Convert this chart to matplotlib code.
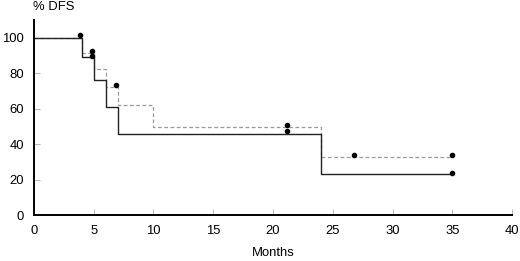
import matplotlib
matplotlib.use("Agg")
import matplotlib.pyplot as plt

plt.rcParams['font.family'] = ['Liberation Sans', 'DejaVu Sans']

# Kaplan-Meier step curves (months, % DFS)
solid_t = [0, 4, 5, 6, 7, 24, 35]
solid_s = [100, 89, 76, 61, 46, 23, 23]
dashed_t = [0, 4, 5, 6, 7, 10, 24, 35]
dashed_s = [100, 91.5, 82.5, 72, 62, 49.5, 33, 33]

# censored observations
cens_t = [3.9, 4.9, 4.9, 6.9, 21.2, 21.2, 26.8, 35, 35]
cens_s = [101.5, 92.7, 89.5, 73.4, 50.6, 47.2, 34, 34, 24]

xticks = [0, 5, 10, 15, 20, 25, 30, 35, 40]
yticks = [0, 20, 40, 60, 80, 100]

fig = plt.figure(figsize=(5.2, 2.61), dpi=100)
ax = fig.add_axes([0.065, 0.176, 0.92, 0.747])

ax.step(dashed_t, dashed_s, where='post', color='#9a9a9a', lw=0.9, ls=(0, (3, 2)))
ax.step(solid_t, solid_s, where='post', color='#222222', lw=1.0)
ax.plot(cens_t, cens_s, ls='none', marker='o', ms=3.0, color='black')

ax.set_xlim(0, 40)
ax.set_ylim(0, 110)
ax.set_xticks(xticks)
ax.set_yticks(yticks)
ax.tick_params(direction='in', length=4, width=0.6, color='#aaaaaa', labelsize=9.4, pad=7)
for s in ['top', 'right']:
    ax.spines[s].set_visible(False)
for s in ['left', 'bottom']:
    ax.spines[s].set_linewidth(1.4)
    ax.spines[s].set_color('black')

ax.set_xlabel('Months', fontsize=9.4, labelpad=7)
fig.text(0.064, 0.973, '% DFS', fontsize=9.4, ha='left', va='center')

fig.savefig('out.png', dpi=100)
